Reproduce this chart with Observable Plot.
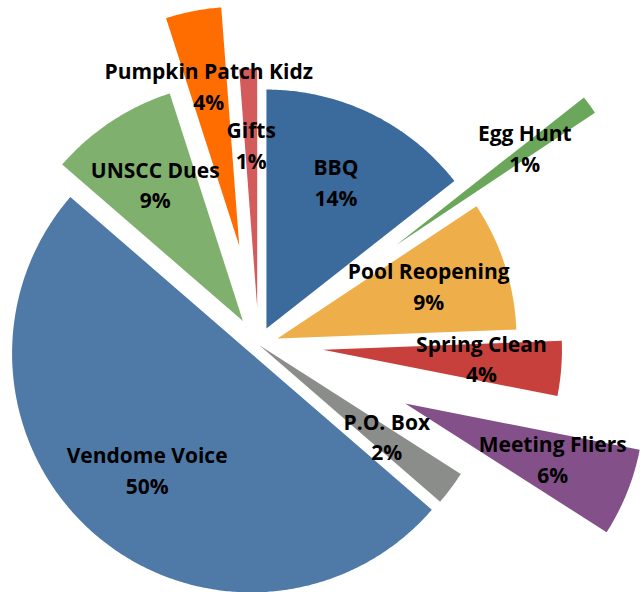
<!DOCTYPE html>
<html><head><meta charset="utf-8">
<script src="https://cdn.jsdelivr.net/npm/d3@7"></script>
<script src="https://cdn.jsdelivr.net/npm/@observablehq/plot@0.6"></script>
<style>html,body{margin:0;padding:0;background:#fff;}</style>
</head><body><div id="chart"></div>
<script>
// Data (clockwise from 12 o'clock), shares in percent
const categories = ["BBQ", "Egg Hunt", "Pool Reopening", "Spring Clean", "Meeting Fliers", "P.O. Box", "Vendome Voice", "UNSCC Dues", "Pumpkin Patch Kidz", "Gifts"];
const values = [14.4, 1.25, 8.75, 3.7, 5.95, 2.3, 50, 8.7, 3.75, 1.2];

// Styles
const colors = ["#3b6a9c", "#6aa75a", "#eeaf4b", "#c8403c", "#83508a", "#8b8d8b", "#4f7aa8", "#80b06e", "#ff6d00", "#d35b5b"];
const explode = [0.075, 0.71, 0.083, 0.27, 0.661, 0.004, 0.048, 0.119, 0.422, 0.155]; // fraction of radius

const W = 640, H = 592, R = 239, CX = 258.1, CY = 344.2;
const total = d3.sum(values);
let cum = 0;
const slices = categories.map((c, i) => {
  const a0 = cum / total * 2 * Math.PI; cum += values[i];
  const a1 = cum / total * 2 * Math.PI;
  return {c, a0, a1, mid: (a0 + a1) / 2, e: explode[i], v: values[i]};
});
const pts = [];
for (const s of slices) {
  const ax = s.e * Math.sin(s.mid), ay = s.e * Math.cos(s.mid);
  pts.push({c: s.c, x: ax, y: ay});
  const n = Math.max(2, Math.ceil((s.a1 - s.a0) / (Math.PI / 360)));
  for (let k = 0; k <= n; k++) {
    const a = s.a0 + (s.a1 - s.a0) * k / n;
    pts.push({c: s.c, x: ax + Math.sin(a), y: ay + Math.cos(a)});
  }
  pts.push({c: s.c, x: ax, y: ay});
}
const labels = slices.map(s => ({
  c: s.c,
  x: (s.e + 0.665) * Math.sin(s.mid),
  y: (s.e + 0.665) * Math.cos(s.mid),
  text: `${s.c}\n${Math.round(s.v / total * 100)}%`
}));

const chart = Plot.plot({
  width: W, height: H, margin: 0,
  style: {background: "white"},
  x: {domain: [-CX / R, (W - CX) / R], axis: null},
  y: {domain: [-(H - CY) / R, CY / R], axis: null},
  color: {domain: categories, range: colors},
  marks: [
    Plot.line(pts, {x: "x", y: "y", z: "c", fill: "c", stroke: "none"}),
    Plot.text(labels, {x: "x", y: "y", text: "text", fill: "black", dy: -5,
      fontSize: 21, fontWeight: "bold", fontFamily: "'Open Sans', sans-serif", lineHeight: 1.45})
  ]
});
document.getElementById("chart").appendChild(chart);
</script>
</body></html>
